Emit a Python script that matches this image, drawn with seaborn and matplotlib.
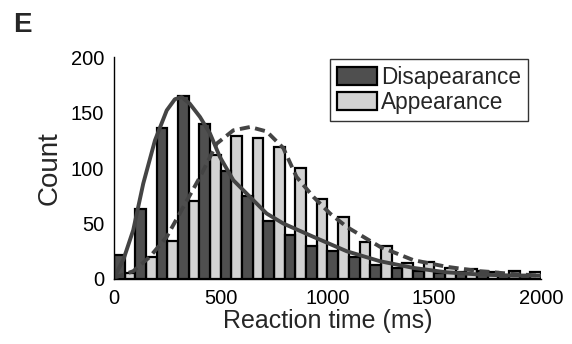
import numpy as np
import pandas as pd
import matplotlib
matplotlib.use("Agg")
import matplotlib.pyplot as plt
from matplotlib.patches import Patch
import seaborn as sns

# histogram counts, 100 ms bins from 0 to 2000
bin_starts = list(range(0, 2000, 100))
disap_counts = [22, 63, 136, 165, 140, 97, 75, 52, 40, 30, 25, 20, 13, 10, 7, 5, 6, 7, 4, 4]
appear_counts = [5, 20, 34, 70, 112, 129, 127, 119, 100, 72, 56, 33, 30, 14, 15, 10, 9, 6, 7, 6]

# fitted curves, points
disap_fit_t = [0, 45, 90, 137, 192, 247, 285, 317, 355, 403, 450, 496, 559, 637, 715, 793,
               934, 1090, 1246, 1402, 1558, 1714, 1870, 2000]
disap_fit_c = [1, 18, 44, 86, 125, 152, 162, 164, 158, 146, 131, 110, 89, 74, 59, 50,
               38, 25, 16, 10, 6, 4, 3, 3]
appear_fit_t = [0, 90, 168, 247, 325, 403, 481, 559, 637, 715, 793, 855, 934, 1012, 1090,
                1246, 1402, 1558, 1714, 1870, 2000]
appear_fit_c = [1, 7, 20, 38, 65, 92, 122, 134, 137, 133, 118, 92, 74, 59, 47,
                29, 17, 11, 7, 4.5, 3]

labels = ["Disapearance", "Appearance"]
dark = "#4f4f4f"
light = "#d2d2d2"
curve = "#444444"

df = pd.DataFrame({
    "t": [b + 50 for b in bin_starts] * 2,
    "count": disap_counts + appear_counts,
    "cond": [labels[0]] * len(bin_starts) + [labels[1]] * len(bin_starts),
})

sns.set_style("white")
plt.rcParams["font.family"] = ["Liberation Sans", "DejaVu Sans"]

fig = plt.figure(figsize=(5.72, 3.44), dpi=100)
ax = fig.add_axes([0.1993, 0.189, 0.7465, 0.645])

sns.histplot(data=df, x="t", weights="count", hue="cond", hue_order=labels,
             binwidth=100, binrange=(0, 2000), multiple="dodge", shrink=1,
             palette=[dark, light], alpha=1, edgecolor="black", linewidth=1.6,
             legend=False, ax=ax)

sns.lineplot(x=disap_fit_t, y=disap_fit_c, color=curve, lw=2.8, ax=ax)
sns.lineplot(x=appear_fit_t, y=appear_fit_c, color=curve, lw=2.8, ax=ax,
             linestyle=(0, (2.6, 1.4)))

ax.set_xlim(0, 2000)
ax.set_ylim(0, 200)
ax.set_xticks([0, 500, 1000, 1500, 2000])
ax.set_yticks([0, 50, 100, 150, 200])
ax.tick_params(direction="in", length=4, width=1, labelsize=14.5, pad=7,
               colors="black")
sns.despine(ax=ax)
for s in ["left", "bottom"]:
    ax.spines[s].set_color("black")
    ax.spines[s].set_linewidth(1)
ax.set_xlabel("Reaction time (ms)", fontsize=18, labelpad=1)
ax.set_ylabel("Count", fontsize=20, labelpad=6)

handles = [Patch(facecolor=dark, edgecolor="black", linewidth=1.6),
           Patch(facecolor=light, edgecolor="black", linewidth=1.6)]
leg = ax.legend(handles, labels, loc="upper right", bbox_to_anchor=(0.9696, 0.991),
                borderaxespad=0, fontsize=16.3, frameon=True, fancybox=False,
                handlelength=1.75, handleheight=0.85, handletextpad=0.2,
                labelspacing=0.1, borderpad=0.3)
leg.get_frame().set_edgecolor("black")
leg.get_frame().set_linewidth(1)

fig.text(0.023, 0.907, "E", fontsize=20, fontweight="bold")

fig.savefig("out.png", dpi=100)
